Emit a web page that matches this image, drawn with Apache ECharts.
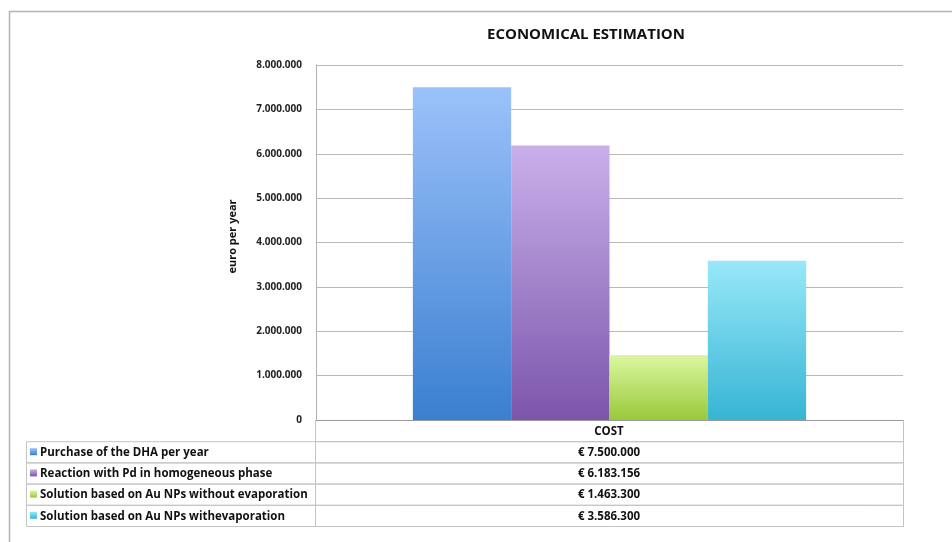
<!DOCTYPE html>
<html>
<head>
<meta charset="utf-8">
<script src="https://cdn.jsdelivr.net/npm/echarts@6/dist/echarts.min.js"></script>
<style>
  html, body { margin: 0; padding: 0; background: #fff; }
  #chart { width: 952px; height: 542px; }
</style>
</head>
<body>
<div id="chart"></div>
<script>
// Cost category and the four production options
const categories = ['COST'];
const seriesNames = [
  'Purchase of the DHA per year',
  'Reaction with Pd in homogeneous phase',
  'Solution based on Au NPs without evaporation',
  'Solution based on Au NPs withevaporation'
];
const seriesValues = [7500000, 6183156, 1463300, 3586300];
const yTicks = [0, 1000000, 2000000, 3000000, 4000000, 5000000, 6000000, 7000000, 8000000];

// Top / bottom gradient colours per series
const topColors = ['#9cc2fa', '#c9b0ea', '#dcf7a0', '#98e8f9'];
const bottomColors = ['#3a7fd0', '#7c55ab', '#98c93a', '#36b5d4'];

function dotted(n) {
  return String(Math.round(n)).replace(/\B(?=(\d{3})+(?!\d))/g, '.');
}

const chart = echarts.init(document.getElementById('chart'));

const grid = { left: 316, right: 49, top: 65, bottom: 122 };
const FONT = '"Open Sans"';

const series = seriesNames.map((name, i) => ({
  name: name,
  type: 'bar',
  data: [seriesValues[i]],
  barGap: '0%',
  barCategoryGap: '33%',
  itemStyle: {
    color: new echarts.graphic.LinearGradient(0, 0, 0, 1, [
      { offset: 0, color: topColors[i] },
      { offset: 1, color: bottomColors[i] }
    ])
  }
}));

// Data table under the axis: header + one row per series
const tableLeft = 26, splitX = 315, tableRight = 903;
const headerTop = 420, rowH = 21.2;
const lineColor = '#c4c4c4';
const cellFont = 'bold 11.5px ' + FONT;
const graphics = [];

// outer chart frame
graphics.push({
  type: 'rect', shape: { x: 9.5, y: 11.5, width: 1000, height: 600 },
  style: { fill: 'none', stroke: '#b4b4b4', lineWidth: 1.5 }, silent: true
});

// chart title
graphics.push({
  type: 'text', x: 586, y: 35,
  style: { text: 'ECONOMICAL ESTIMATION', font: 'bold 15px ' + FONT, fill: '#111', align: 'center', verticalAlign: 'middle' }
});

// header cell
graphics.push({
  type: 'rect', shape: { x: splitX + 0.5, y: headerTop + 0.5, width: tableRight - splitX, height: rowH },
  style: { fill: 'none', stroke: lineColor, lineWidth: 1 }
});
graphics.push({
  type: 'text', x: (splitX + tableRight) / 2, y: headerTop + rowH / 2 + 1,
  style: { text: categories[0], font: cellFont, fill: '#111', align: 'center', verticalAlign: 'middle' }
});

seriesNames.forEach((name, i) => {
  const y = headerTop + rowH * (i + 1);
  graphics.push({
    type: 'rect', shape: { x: tableLeft + 0.5, y: y + 0.5, width: splitX - tableLeft, height: rowH },
    style: { fill: 'none', stroke: lineColor, lineWidth: 1 }
  });
  graphics.push({
    type: 'rect', shape: { x: splitX + 0.5, y: y + 0.5, width: tableRight - splitX, height: rowH },
    style: { fill: 'none', stroke: lineColor, lineWidth: 1 }
  });
  graphics.push({
    type: 'rect', shape: { x: tableLeft + 4, y: y + 7, width: 7, height: 7 },
    style: { fill: new echarts.graphic.LinearGradient(0, 0, 0, 1, [
      { offset: 0, color: topColors[i] }, { offset: 1, color: bottomColors[i] }
    ]) }
  });
  graphics.push({
    type: 'text', x: tableLeft + 14, y: y + rowH / 2 + 1,
    style: { text: name, font: cellFont, fill: '#111', align: 'left', verticalAlign: 'middle' }
  });
  graphics.push({
    type: 'text', x: (splitX + tableRight) / 2, y: y + rowH / 2 + 1,
    style: { text: '€ ' + dotted(seriesValues[i]), font: cellFont, fill: '#111', align: 'center', verticalAlign: 'middle' }
  });
});

chart.setOption({
  backgroundColor: '#fff',
  animation: false,
  grid: grid,
  xAxis: {
    type: 'category',
    data: categories,
    axisLine: { show: true, lineStyle: { color: '#9a9a9a', width: 1 } },
    axisTick: { show: false },
    axisLabel: { show: false }
  },
  yAxis: {
    type: 'value',
    min: 0, max: yTicks[yTicks.length - 1], interval: yTicks[1] - yTicks[0],
    name: 'euro per year',
    nameLocation: 'middle',
    nameGap: 78,
    nameTextStyle: { fontFamily: FONT, fontWeight: 'bold', fontSize: 11, color: '#111', padding: [0, 0, 0, 12] },
    axisLine: { show: true, lineStyle: { color: '#b0b0b0' } },
    axisTick: { show: false },
    axisLabel: {
      fontFamily: FONT, fontWeight: 'bold', fontSize: 10, color: '#222', margin: 14,
      formatter: v => dotted(v)
    },
    splitLine: { lineStyle: { color: '#b8b8b8', width: 1.2 } }
  },
  series: series,
  graphic: graphics
});
</script>
</body>
</html>
